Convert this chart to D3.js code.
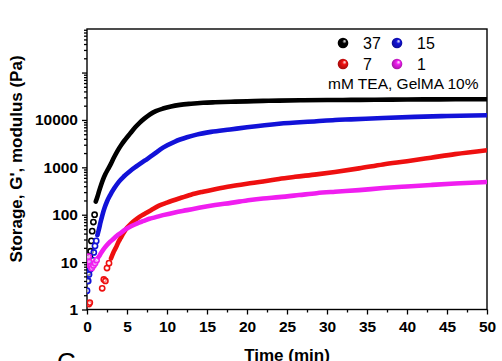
<!DOCTYPE html>
<html>
<head>
<meta charset="utf-8">
<script src="https://cdn.jsdelivr.net/npm/d3@7"></script>
<style>
  body { margin: 0; background: #fff; }
  svg { display: block; font-family: Arial, "Liberation Sans", sans-serif; }
  .axis path, .axis line { stroke: #000; stroke-width: 1.3; }
  .axis text { font-size: 15.5px; font-weight: bold; fill: #000; font-family: Arial, "Liberation Sans", sans-serif; }
</style>
</head>
<body>
<div id="chart"></div>
<script>
// G' vs time, 4 TEA concentrations
var t37 = [0.05, 0.15, 0.25, 0.35, 0.45, 0.55, 0.65, 0.8, 0.95, 1.1, 1.3, 1.5, 1.75, 2.0, 2.3, 2.6, 3.0, 3.4, 3.8, 4.3, 4.8, 5.4, 6.0, 6.6, 7.2, 7.9, 8.6, 9.5, 10.5, 11.6, 13, 14.5, 16, 18, 20, 22, 24, 27, 30, 33, 36, 40, 44, 47, 50];
var g37 = [4, 6, 9, 13, 17, 28, 45, 70, 100, 190, 240, 310, 420, 550, 720, 900, 1200, 1650, 2200, 3000, 3900, 5200, 6900, 8800, 10800, 13200, 15300, 17400, 19300, 20800, 22000, 23000, 23600, 24200, 24700, 25200, 25600, 26000, 26300, 26500, 26700, 27000, 27200, 27300, 27400];

var t15 = [0.0, 0.15, 0.25, 0.4, 0.55, 0.7, 0.85, 1.0, 1.15, 1.3, 1.5, 1.7, 1.9, 2.2, 2.5, 2.9, 3.4, 4.0, 4.6, 5.4, 6.3, 7.2, 8.2, 9.5, 11, 12.5, 13.7, 15.5, 17.9, 20, 24, 28.7, 31, 33, 37, 41, 45, 50];
var g15 = [2.5, 4, 5.5, 7, 9, 11, 16, 22, 28, 37, 50, 70, 95, 140, 190, 260, 360, 500, 640, 840, 1080, 1380, 1800, 2600, 3500, 4300, 4900, 5600, 6300, 7000, 8300, 9400, 10000, 10300, 11000, 11600, 12100, 12600];

var t7 = [0.25, 0.35, 1.9, 2.1, 2.3, 2.5, 2.75, 3.0, 3.3, 3.6, 3.9, 4.2, 4.6, 5.0, 5.4, 5.8, 6.3, 7.0, 7.5, 8.0, 9.0, 10, 11.5, 13, 14.5, 16, 18, 20, 22, 24, 26, 28.7, 31, 34, 37, 40, 43, 46, 50];
var g7 = [1.3, 1.4, 2.8, 4.3, 4.0, 7.5, 9.5, 12, 16, 20, 26, 32, 42, 53, 62, 72, 84, 100, 112, 125, 155, 180, 220, 265, 305, 345, 400, 450, 500, 570, 630, 710, 800, 950, 1150, 1350, 1600, 1900, 2300];

var t1 = [0.0, 0.1, 0.2, 0.3, 0.45, 0.6, 0.8, 1.0, 1.2, 1.4, 1.6, 1.9, 2.2, 2.5, 2.9, 3.4, 3.8, 4.2, 4.8, 5.5, 6.3, 7.1, 7.8, 8.5, 9.5, 11, 12.5, 14, 16, 18, 20.4, 22, 24, 26.5, 28.7, 31, 34, 37, 40, 43, 46, 50];
var g1 = [9, 11.5, 13, 10, 8.2, 7.5, 8.5, 9.5, 11, 12.5, 14, 17, 20, 23, 27, 32, 37, 41, 49, 57, 66, 74, 82, 88, 98, 112, 125, 140, 160, 178, 205, 220, 235, 260, 285, 305, 330, 365, 395, 425, 455, 490];

var seriesNames = ["37", "15", "7", "1"];
var seriesColors = ["#000000", "#1212d8", "#ee1010", "#f01ef0"];
var bandFrom = [1.0, 1.3, 3.0, 1.4];
var xTicks = [0, 5, 10, 15, 20, 25, 30, 35, 40, 45, 50];
var yTicks = [1, 10, 100, 1000, 10000, 100000];
var legendNote = "mM TEA, GelMA 10%";

var series = [
  { name: seriesNames[0], t: t37, g: g37 },
  { name: seriesNames[1], t: t15, g: g15 },
  { name: seriesNames[2], t: t7, g: g7 },
  { name: seriesNames[3], t: t1, g: g1 },
];

var w = 502;
var h = 361;
var pL = 87, pR = 487, pT = 29, pB = 309.5;

var svg = d3
  .select("#chart")
  .append("svg")
  .attr("width", w)
  .attr("height", h);

var x = d3.scaleLinear().domain([0, 50]).range([pL, pR]);
var y = d3.scaleLog().domain([1, 830000]).range([pB, pT]);

var defs = svg.append("defs");
defs
  .append("clipPath")
  .attr("id", "plotclip")
  .append("rect")
  .attr("x", pL)
  .attr("y", pT)
  .attr("width", pR - pL)
  .attr("height", pB - pT);

// shaded balls for the legend
seriesColors.forEach(function (c, i) {
  var g = defs
    .append("radialGradient")
    .attr("id", "ball" + i)
    .attr("cx", "0.5")
    .attr("cy", "0.5")
    .attr("r", "0.55")
    .attr("fx", "0.68")
    .attr("fy", "0.3");
  g.append("stop").attr("offset", "0").attr("stop-color", "#fff");
  g.append("stop").attr("offset", "0.35").attr("stop-color", c);
  g.append("stop").attr("offset", "1").attr("stop-color", d3.color(c).darker(1.2));
});

// axes
var minorY = [];
for (var e = 0; e < 6; e++) {
  for (var m = 2; m < 10; m++) {
    var v = m * Math.pow(10, e);
    if (v <= 830000) minorY.push(v);
  }
}
var minorX = xTicks.slice(0, -1).map(function (d) { return d + 2.5; });

svg
  .append("g")
  .attr("class", "axis")
  .attr("transform", "translate(" + pL + ",0)")
  .call(d3.axisLeft(y).tickValues(minorY).tickSize(3).tickFormat(""))
  .call(function (g) { g.select(".domain").remove(); });

svg
  .append("g")
  .attr("class", "axis")
  .attr("transform", "translate(" + pL + ",0)")
  .call(
    d3
      .axisLeft(y)
      .tickValues(yTicks)
      .tickSize(5)
      .tickPadding(4)
      .tickFormat(function (d) { return d <= 10000 ? d3.format("d")(d) : ""; })
  )
  .call(function (g) { g.select(".domain").remove(); });

svg
  .append("g")
  .attr("class", "axis")
  .attr("transform", "translate(0," + pB + ")")
  .call(d3.axisBottom(x).tickValues(minorX).tickSize(3).tickFormat(""))
  .call(function (g) { g.select(".domain").remove(); });

svg
  .append("g")
  .attr("class", "axis")
  .attr("transform", "translate(0," + pB + ")")
  .call(d3.axisBottom(x).tickValues(xTicks).tickSize(5).tickPadding(6))
  .call(function (g) { g.select(".domain").remove(); });

svg
  .append("rect")
  .attr("x", pL)
  .attr("y", pT)
  .attr("width", pR - pL)
  .attr("height", pB - pT)
  .attr("fill", "none")
  .attr("stroke", "#000")
  .attr("stroke-width", 1.4);

// data
var plot = svg.append("g").attr("clip-path", "url(#plotclip)");

var line = d3
  .line()
  .x((d) => x(d[0]))
  .y((d) => y(d[1]))
  .curve(d3.curveMonotoneX);

series.forEach(function (s, i) {
  var pts = s.t.map(function (t, j) { return [t, s.g[j]]; });
  var band = pts.filter(function (p) { return p[0] >= bandFrom[i]; });
  plot
    .append("path")
    .attr("d", line(band))
    .attr("fill", "none")
    .attr("stroke", seriesColors[i])
    .attr("stroke-width", 4.6)
    .attr("stroke-linecap", "round");
  // early points stand apart as open rings, later ones merge into the band
  plot
    .append("g")
    .selectAll("circle")
    .data(pts)
    .enter()
    .append("circle")
    .attr("cx", (d) => x(d[0]))
    .attr("cy", (d) => y(d[1]))
    .attr("r", (d) => (d[0] < bandFrom[i] ? 2.6 : 1.6))
    .attr("fill", (d) => (d[0] < bandFrom[i] ? "#fff" : seriesColors[i]))
    .attr("fill-opacity", (d) => (d[0] < bandFrom[i] ? 0.55 : 1))
    .attr("stroke", (d) => (d[0] < bandFrom[i] ? seriesColors[i] : "none"))
    .attr("stroke-width", 1.6);
});

// legend
var legendPos = [
  [343, 43],
  [397, 43],
  [343, 64],
  [397, 64],
];
var legend = svg.append("g");
series.forEach(function (s, i) {
  legend
    .append("circle")
    .attr("cx", legendPos[i][0])
    .attr("cy", legendPos[i][1])
    .attr("r", 5.3)
    .attr("fill", "url(#ball" + i + ")");
  legend
    .append("text")
    .attr("x", legendPos[i][0] + 20)
    .attr("y", legendPos[i][1] + 5.5)
    .attr("font-size", "16px")
    .text(s.name);
});
legend
  .append("text")
  .attr("x", 328)
  .attr("y", 88.5)
  .attr("font-size", "15.5px")
  .text(legendNote);

// titles
svg
  .append("text")
  .attr("transform", "translate(22," + 159 + ") rotate(-90)")
  .attr("text-anchor", "middle")
  .attr("font-size", "17px")
  .attr("font-weight", "bold")
  .text("Storage, G', modulus (Pa)");

svg
  .append("text")
  .attr("x", 287)
  .attr("y", 361)
  .attr("text-anchor", "middle")
  .attr("font-size", "17px")
  .attr("font-weight", "bold")
  .text("Time (min)");

svg
  .append("text")
  .attr("x", 57)
  .attr("y", 371)
  .attr("font-size", "26px")
  .text("C");
</script>
</body>
</html>
